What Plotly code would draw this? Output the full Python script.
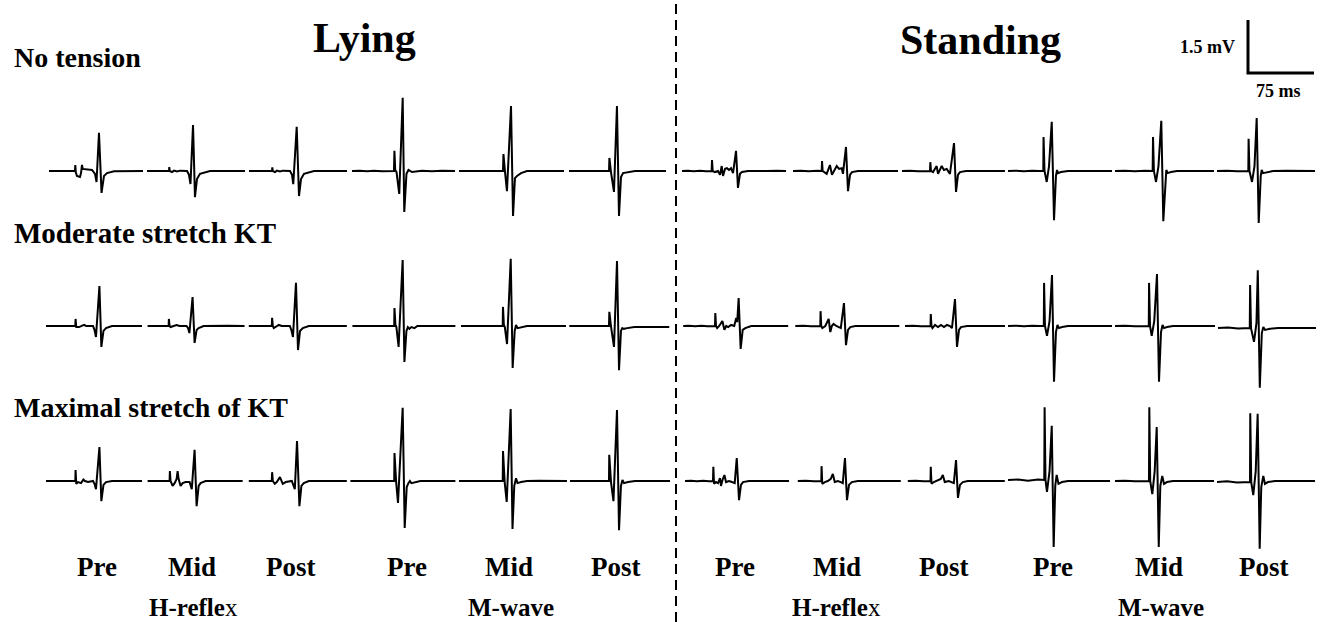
import plotly.graph_objects as go

# ---------------- DATA (time in ms from sweep start, amplitude in mV vs baseline) ----------------
ROW_LABELS = ["No tension", "Moderate stretch KT", "Maximal stretch of KT"]
POSTURES = ["Lying", "Standing"]
RESPONSES = ["H-reflex", "M-wave"]
TIMEPOINTS = ["Pre", "Mid", "Post"]
SCALE_MS = 75
SCALE_MV = 1.5

# Row 1: No tension
nt_ly_h_pre = ([0, 29.5, 29.9, 30.4, 31.8, 35.2, 36.4, 37.5, 38.3, 48.9, 52.3, 54.0, 56.8, 59.7, 62.5, 65.9, 73.9, 106.8],
               [0, 0, 0.17, -0.03, -0.14, -0.17, -0.06, 0.17, 0.06, 0.03, -0.08, -0.31, 1.08, -0.62, -0.14, -0.06, -0.01, 0])
nt_ly_h_mid = ([0, 25.0, 25.3, 25.9, 28.4, 30.7, 34.1, 37.5, 45.5, 47.7, 49.4, 52.3, 54.5, 56.8, 60.2, 65.9, 71.6, 111.4],
               [0, 0, 0.11, 0, -0.03, 0.01, -0.01, 0.01, 0, -0.11, -0.37, 1.30, -0.74, -0.23, -0.08, -0.03, 0, 0])
nt_ly_h_post = ([0, 26.1, 26.5, 27.0, 29.5, 31.8, 35.2, 38.6, 46.6, 48.9, 50.3, 54.2, 56.8, 59.1, 62.5, 68.2, 73.9, 111.4],
                [0, 0, 0.10, 0, -0.03, 0.01, -0.01, 0.01, 0, -0.11, -0.37, 1.25, -0.71, -0.23, -0.08, -0.03, 0, 0])
nt_ly_m_pre = ([0, 9.1, 17.0, 25.0, 34.1, 43.2, 47.7, 48.2, 49.1, 50.6, 53.7, 57.6, 59.4, 61.9, 64.2, 68.2, 79.5, 90.9, 102.3, 117.0],
               [0, 0.01, -0.01, 0.01, -0.01, 0.01, 0, 0.57, 0.03, -0.03, -0.65, 2.07, -1.16, -0.08, 0.03, -0.03, 0.01, -0.01, 0.01, 0])
nt_ly_m_mid = ([0, 50.0, 50.5, 51.4, 52.3, 54.5, 59.1, 61.4, 63.6, 65.9, 70.5, 77.3, 119.3],
               [0, 0, 0.48, 0.03, -0.03, -0.57, 1.84, -1.27, -0.20, -0.14, -0.06, 0, 0])
nt_ly_m_post = ([0, 45.5, 45.9, 46.8, 47.7, 51.1, 54.5, 56.8, 59.1, 61.4, 68.2, 75.0, 110.2],
                [0, 0, 0.37, 0.03, -0.03, -0.59, 1.84, -1.27, -0.17, -0.06, -0.03, 0, 0])
nt_st_h_pre = ([0, 6.8, 13.6, 20.5, 27.3, 33.7, 34.1, 34.9, 37.5, 40.9, 43.2, 45.1, 46.6, 48.9, 51.1, 53.4, 55.7, 58.0, 61.4, 63.6, 65.9, 68.2, 75.0, 85.2, 96.6, 108.0, 118.2],
               [0, 0.01, -0.01, 0.01, -0.01, 0, 0.31, 0, -0.03, 0, -0.11, 0.14, -0.14, 0.06, 0.08, 0.03, 0.08, -0.06, 0.57, -0.48, -0.08, -0.03, 0, 0.01, 0, 0.01, 0])
nt_st_h_mid = ([0, 9.1, 18.2, 27.3, 32.6, 33.0, 33.7, 38.3, 42.0, 44.3, 46.6, 49.7, 52.3, 55.3, 56.8, 60.2, 62.5, 64.8, 67.0, 73.9, 119.3],
               [0, 0.01, -0.01, 0.01, 0, 0.28, 0, -0.08, 0.17, -0.11, 0, 0.14, 0.06, 0.08, -0.08, 0.68, -0.57, -0.11, -0.03, 0, 0])
nt_st_h_post = ([0, 9.1, 18.2, 27.3, 31.8, 32.2, 33.0, 35.2, 39.4, 40.9, 43.2, 45.1, 47.7, 50.8, 54.5, 59.1, 61.4, 63.6, 65.9, 72.7, 117.0],
                [0, 0.01, -0.01, 0.01, 0, 0.25, 0, -0.03, 0.14, -0.08, 0.03, 0.14, 0.03, 0.06, -0.08, 0.79, -0.59, -0.11, -0.03, 0, 0])
nt_st_m_pre = ([0, 9.1, 18.2, 27.3, 36.4, 40.1, 40.4, 41.5, 44.0, 46.6, 49.7, 52.3, 54.5, 55.7, 56.8, 60.2, 68.2, 85.2, 102.3, 118.2],
               [0, 0.01, -0.01, 0.01, 0, 0, 0.96, 0, -0.31, 0.14, 1.39, -1.39, -0.14, 0.03, -0.06, -0.03, 0, 0.01, 0, 0])
nt_st_m_mid = ([0, 11.4, 22.7, 34.1, 42.8, 43.2, 44.2, 46.6, 49.4, 52.6, 54.9, 57.2, 58.3, 59.7, 63.6, 70.5, 112.5],
               [0, 0.01, -0.01, 0.01, 0, 0.96, 0, -0.31, 0.14, 1.42, -1.42, -0.14, 0.03, -0.06, -0.03, 0, 0])
nt_st_m_post = ([0, 11.4, 22.7, 35.6, 35.9, 36.9, 39.8, 42.6, 45.1, 47.4, 49.7, 50.8, 52.3, 56.8, 63.6, 79.5, 96.6, 111.4],
                [0, 0.01, -0.01, 0, 0.91, 0, -0.31, 0.14, 1.50, -1.47, -0.14, 0.03, -0.06, -0.03, 0, 0.01, 0, 0])

# Row 2: Moderate stretch KT
md_ly_h_pre = ([0, 33.3, 33.6, 34.4, 37.5, 40.9, 43.2, 45.5, 53.4, 55.1, 56.8, 60.7, 62.9, 65.3, 68.2, 75.0, 109.1],
               [0, 0, 0.20, -0.03, -0.03, 0, 0.03, 0, 0, -0.11, -0.31, 1.13, -0.59, -0.14, -0.06, 0, 0])
md_ly_h_mid = ([0, 23.9, 24.2, 25.0, 26.1, 29.5, 33.0, 36.4, 44.3, 46.0, 47.5, 51.1, 53.4, 55.7, 58.0, 63.6, 79.5, 85.2, 90.9, 110.2],
               [0, 0, 0.20, 0, -0.03, 0, 0.03, 0, 0, -0.06, -0.20, 0.82, -0.48, -0.11, -0.06, 0, 0.01, 0, 0.01, 0])
md_ly_h_post = ([0, 26.1, 26.5, 27.3, 28.4, 30.7, 34.1, 37.5, 46.6, 48.3, 50.2, 53.6, 55.9, 58.2, 61.4, 68.2, 111.4],
                [0, 0, 0.23, 0, -0.06, -0.03, 0.03, 0, 0, -0.11, -0.31, 1.22, -0.68, -0.14, -0.06, 0, 0])
md_ly_m_pre = ([0, 47.5, 47.8, 48.9, 50.0, 52.5, 57.1, 59.1, 61.4, 63.0, 64.8, 67.0, 70.5, 73.9, 117.0],
               [0, 0, 0.51, 0.03, -0.03, -0.59, 1.87, -1.02, -0.14, -0.03, -0.08, -0.03, -0.06, 0, 0])
md_ly_m_mid = ([0, 47.4, 47.7, 48.7, 49.8, 52.3, 56.5, 58.7, 61.0, 62.5, 64.2, 68.2, 75.0, 119.3],
               [0, 0, 0.54, 0.03, -0.03, -0.51, 1.90, -1.19, -0.14, 0.03, -0.06, -0.03, 0, 0])
md_ly_m_post = ([0, 45.1, 45.5, 46.5, 47.5, 50.8, 54.2, 56.5, 58.7, 60.2, 61.9, 65.9, 73.9, 113.6],
                [0, 0, 0.40, 0.03, -0.03, -0.59, 1.84, -1.25, -0.14, -0.06, -0.08, -0.06, -0.03, -0.03])
md_st_h_pre = ([0, 6.8, 13.6, 20.5, 27.3, 36.1, 36.5, 37.3, 38.6, 40.9, 44.5, 46.8, 48.9, 51.1, 54.5, 58.0, 60.2, 61.4, 63.0, 65.3, 67.6, 70.5, 77.3, 90.9, 104.5, 119.3],
               [0, 0.01, -0.01, 0.01, -0.01, 0, 0.37, 0, -0.06, 0, 0.14, -0.11, 0, -0.03, 0.03, 0, 0.23, 0.11, 0.79, -0.65, -0.11, -0.06, 0, 0.01, 0, 0])
md_st_h_mid = ([0, 9.1, 18.2, 25.0, 28.4, 28.7, 29.5, 30.7, 34.1, 37.9, 39.8, 41.5, 43.5, 46.6, 48.9, 51.7, 55.3, 57.6, 59.9, 62.5, 68.2, 118.2],
               [0, 0.01, -0.01, 0.01, 0, 0.42, 0, -0.06, 0, 0.20, -0.17, 0, 0.06, 0, -0.03, -0.06, 0.65, -0.54, -0.11, -0.03, 0, 0])
md_st_h_post = ([0, 9.1, 18.2, 29.0, 29.3, 30.1, 31.2, 34.1, 37.5, 40.9, 44.3, 47.7, 51.1, 53.4, 56.8, 59.1, 61.4, 63.6, 70.5, 113.6],
                [0, 0.01, -0.01, 0, 0.34, 0, -0.06, 0.03, -0.03, 0.03, -0.03, 0.03, 0, -0.06, 0.76, -0.59, -0.11, -0.03, 0, 0])
md_st_m_pre = ([0, 9.1, 18.2, 27.3, 36.4, 40.7, 41.0, 42.0, 44.3, 47.2, 50.0, 52.3, 54.5, 56.2, 58.0, 61.4, 68.2, 118.2],
               [0, 0.01, -0.01, 0.01, 0, 0, 1.22, 0, -0.28, 0.14, 1.44, -1.58, -0.17, 0.03, -0.06, -0.03, 0, 0])
md_st_m_mid = ([0, 11.4, 22.7, 38.4, 38.7, 39.8, 41.7, 44.6, 47.7, 50.0, 52.3, 54.0, 55.7, 59.1, 65.9, 113.6],
               [0, 0.01, -0.01, 0, 1.22, 0, -0.28, 0.14, 1.47, -1.58, -0.17, 0.03, -0.06, -0.03, 0, 0])
md_st_m_post = ([0, 11.4, 22.7, 36.1, 36.5, 37.5, 40.9, 43.7, 45.2, 47.5, 49.8, 51.5, 53.4, 59.1, 68.2, 111.4],
                [-0.06, -0.04, -0.07, -0.06, 1.16, -0.06, -0.45, 0.08, 1.58, -1.75, -0.20, -0.03, -0.11, -0.08, -0.06, -0.06])

# Row 3: Maximal stretch of KT
mx_ly_h_pre = ([0, 33.3, 33.6, 34.4, 36.4, 39.8, 42.5, 44.3, 47.7, 53.4, 55.1, 56.8, 60.7, 62.9, 65.3, 68.2, 75.0, 109.1],
               [0, 0, 0.31, -0.08, -0.03, -0.06, 0.04, 0, -0.03, 0, -0.08, -0.23, 0.96, -0.57, -0.11, -0.03, 0, 0])
mx_ly_h_mid = ([0, 25.0, 25.3, 26.1, 28.4, 30.7, 33.0, 34.1, 35.2, 37.5, 39.8, 43.2, 47.7, 50.2, 53.4, 55.7, 58.0, 60.2, 65.9, 108.0],
               [0, 0, 0.28, 0, -0.14, -0.06, 0.06, 0.28, 0.06, -0.14, -0.06, -0.03, -0.03, -0.23, 0.88, -0.71, -0.14, -0.06, 0, 0])
mx_ly_h_post = ([0, 26.1, 26.5, 27.3, 29.5, 31.8, 35.4, 36.9, 38.6, 42.0, 48.9, 52.3, 54.8, 57.5, 59.8, 62.5, 68.2, 111.4],
                [0, 0, 0.25, 0, -0.08, -0.03, 0.11, 0, -0.08, -0.03, 0, -0.23, 1.13, -0.71, -0.14, -0.06, 0, 0])
mx_ly_m_pre = ([0, 49.8, 50.1, 51.1, 52.0, 54.1, 59.4, 61.7, 64.0, 65.9, 67.6, 69.3, 73.9, 79.5, 119.3],
               [0, 0, 0.79, 0.03, -0.03, -0.62, 2.07, -1.33, -0.17, -0.06, 0, -0.06, -0.03, 0, 0])
mx_ly_m_mid = ([0, 49.7, 50.0, 51.0, 51.9, 54.2, 58.7, 60.8, 62.8, 64.8, 66.5, 70.5, 77.3, 90.9, 108.0, 122.7],
               [0, 0, 0.85, 0.03, -0.03, -0.59, 2.04, -1.36, -0.14, 0.08, -0.06, -0.03, 0, 0.01, 0, 0])
mx_ly_m_post = ([0, 44.3, 44.6, 45.7, 46.6, 49.4, 53.4, 55.7, 57.9, 59.6, 61.4, 65.9, 73.9, 113.6],
                [0, 0, 0.74, 0.03, -0.03, -0.57, 2.01, -1.39, -0.14, 0.03, -0.06, -0.03, 0, 0])
mx_st_h_pre = ([0, 6.8, 13.6, 20.5, 27.3, 31.8, 32.2, 33.0, 35.2, 37.5, 39.8, 40.9, 42.6, 44.8, 46.6, 50.0, 53.4, 56.5, 58.8, 61.4, 63.6, 65.9, 72.7, 90.9, 104.5, 118.2],
               [0, 0.01, -0.01, 0.01, -0.01, 0, 0.40, -0.08, -0.03, -0.06, 0.08, -0.14, 0.03, 0.17, -0.03, 0, -0.03, -0.06, 0.65, -0.54, -0.11, -0.03, 0, 0.01, 0, 0])
mx_st_h_mid = ([0, 9.1, 18.2, 26.7, 27.0, 27.8, 30.7, 34.1, 37.5, 39.8, 42.0, 45.5, 48.9, 51.1, 53.6, 55.9, 58.2, 61.4, 68.2, 117.0],
               [0, 0.01, -0.01, 0, 0.42, -0.08, -0.03, 0, 0.06, 0.20, -0.03, 0, -0.03, -0.06, 0.65, -0.54, -0.11, -0.03, 0, 0])
mx_st_h_post = ([0, 9.1, 18.2, 25.8, 26.1, 26.9, 29.5, 33.0, 37.5, 39.8, 42.0, 46.6, 50.0, 52.3, 54.8, 57.0, 59.3, 62.5, 68.2, 110.2],
                [0, 0.01, -0.01, 0, 0.40, -0.08, -0.03, 0, 0.06, 0.17, -0.03, 0, -0.03, -0.06, 0.59, -0.48, -0.11, -0.03, 0, 0])
mx_st_m_pre = ([0, 11.4, 22.7, 34.1, 41.2, 41.6, 42.6, 44.3, 47.2, 49.7, 51.9, 53.7, 55.3, 57.4, 61.4, 68.2, 115.9],
               [0.03, 0.04, 0.01, 0.04, 0.03, 2.09, 0.03, -0.31, 0.28, 1.56, -1.87, -0.14, 0.17, -0.08, -0.03, 0, 0])
mx_st_m_mid = ([0, 11.4, 22.7, 38.6, 39.0, 40.0, 42.4, 45.1, 47.4, 49.7, 51.5, 53.7, 55.7, 59.1, 65.9, 112.5],
               [0, 0.01, -0.01, 0, 2.09, 0, -0.37, 0.28, 1.53, -1.87, -0.14, 0.14, -0.08, -0.03, 0, 0])
mx_st_m_post = ([0, 11.4, 22.7, 37.5, 37.8, 38.9, 41.2, 44.0, 46.2, 48.5, 50.3, 52.6, 54.5, 57.9, 65.9, 111.4],
                [-0.03, -0.01, -0.04, -0.03, 1.92, -0.03, -0.40, 0.28, 1.90, -1.92, -0.17, 0.14, -0.08, -0.03, 0, 0])

ROWS_DATA = [
    [nt_ly_h_pre, nt_ly_h_mid, nt_ly_h_post, nt_ly_m_pre, nt_ly_m_mid, nt_ly_m_post,
     nt_st_h_pre, nt_st_h_mid, nt_st_h_post, nt_st_m_pre, nt_st_m_mid, nt_st_m_post],
    [md_ly_h_pre, md_ly_h_mid, md_ly_h_post, md_ly_m_pre, md_ly_m_mid, md_ly_m_post,
     md_st_h_pre, md_st_h_mid, md_st_h_post, md_st_m_pre, md_st_m_mid, md_st_m_post],
    [mx_ly_h_pre, mx_ly_h_mid, mx_ly_h_post, mx_ly_m_pre, mx_ly_m_mid, mx_ly_m_post,
     mx_st_h_pre, mx_st_h_mid, mx_st_h_post, mx_st_m_pre, mx_st_m_mid, mx_st_m_post],
]

# ---------------- LAYOUT (pixel placement of panels) ----------------
W, H = 1321, 622
PX_PER_MS = 66 / SCALE_MS      # 75 ms scale bar drawn 66 px long
PX_PER_MV = 53 / SCALE_MV      # 1.5 mV scale bar drawn 53 px tall
ROW_BASE_PX = [171, 326, 481]
COL_START_PX = [
    [49, 147, 249, 352, 459, 569, 682, 793, 902, 1008, 1115, 1217],
    [46, 147.6, 248.8, 352.4, 461, 569.3, 683.2, 795.3, 905, 1008, 1115, 1218],
    [46, 147.6, 248.8, 350.4, 459, 570, 685, 797.8, 907.8, 1008, 1115, 1217],
]
LABEL_X_PX = [97, 192, 291, 407, 509, 616, 735, 837, 944, 1053, 1159, 1264]
GROUP_X_PX = [194, 511, 836, 1161]
DIVIDER_X_PX = 676
SCALE_ORIGIN_PX = (1248, 73)
FONT = "Liberation Serif, Times New Roman, serif"


def px_to_ms(px):
    return px / PX_PER_MS


def px_to_mv(py):
    return (H - py) / PX_PER_MV


fig = go.Figure()

for r, row in enumerate(ROWS_DATA):
    base = px_to_mv(ROW_BASE_PX[r])
    for c, (t, v) in enumerate(row):
        x0 = px_to_ms(COL_START_PX[r][c])
        fig.add_trace(go.Scatter(
            x=[x0 + ti for ti in t], y=[base + vi for vi in v],
            mode="lines", line=dict(color="black", width=2),
            hoverinfo="skip", showlegend=False))

# scale bar (1.5 mV vertical, 75 ms horizontal)
sx = px_to_ms(SCALE_ORIGIN_PX[0])
sy = px_to_mv(SCALE_ORIGIN_PX[1])
fig.add_trace(go.Scatter(
    x=[sx, sx, sx + SCALE_MS], y=[sy + SCALE_MV, sy, sy],
    mode="lines", line=dict(color="black", width=3),
    hoverinfo="skip", showlegend=False))


def ann(text, xpx, ypx, size, xanchor="center", bold=True):
    fig.add_annotation(
        x=xpx / W, y=1 - ypx / H, xref="paper", yref="paper",
        text=f"<b>{text}</b>" if bold else text, showarrow=False,
        xanchor=xanchor, yanchor="middle",
        font=dict(family=FONT, size=size, color="black"))


ann(POSTURES[0], 365, 38, 42)
ann(POSTURES[1], 981, 40, 42)
ann(ROW_LABELS[0], 12, 58, 28, xanchor="left")
ann(ROW_LABELS[1], 12, 233, 29, xanchor="left")
ann(ROW_LABELS[2], 12, 407, 28, xanchor="left")
ann(f"{SCALE_MV} mV", 1237, 47, 18, xanchor="right")
ann(f"{SCALE_MS} ms", 1278, 91, 18)

labels = TIMEPOINTS * 4
for i, lab in enumerate(labels):
    ann(lab, LABEL_X_PX[i], 567, 27)
groups = [RESPONSES[0], RESPONSES[1], RESPONSES[0], RESPONSES[1]]
for i, g in enumerate(groups):
    txt = "<b>H-refle</b>x" if g == "H-reflex" else f"<b>{g}</b>"
    ann(txt, GROUP_X_PX[i], 607, 25, bold=False)

fig.add_shape(type="line", xref="paper", yref="paper",
              x0=DIVIDER_X_PX / W, x1=DIVIDER_X_PX / W, y0=0, y1=1,
              line=dict(color="black", width=2, dash="10px,6px"))

fig.update_layout(
    width=W, height=H, margin=dict(l=0, r=0, t=0, b=0),
    paper_bgcolor="white", plot_bgcolor="white",
    xaxis=dict(range=[0, px_to_ms(W)], visible=False, showgrid=False, zeroline=False),
    yaxis=dict(range=[0, px_to_mv(0)], visible=False, showgrid=False, zeroline=False),
)

fig.write_html("out.html", config={"displayModeBar": False, "staticPlot": True},
               post_script="document.body.style.margin='0';document.body.style.overflow='hidden';")
